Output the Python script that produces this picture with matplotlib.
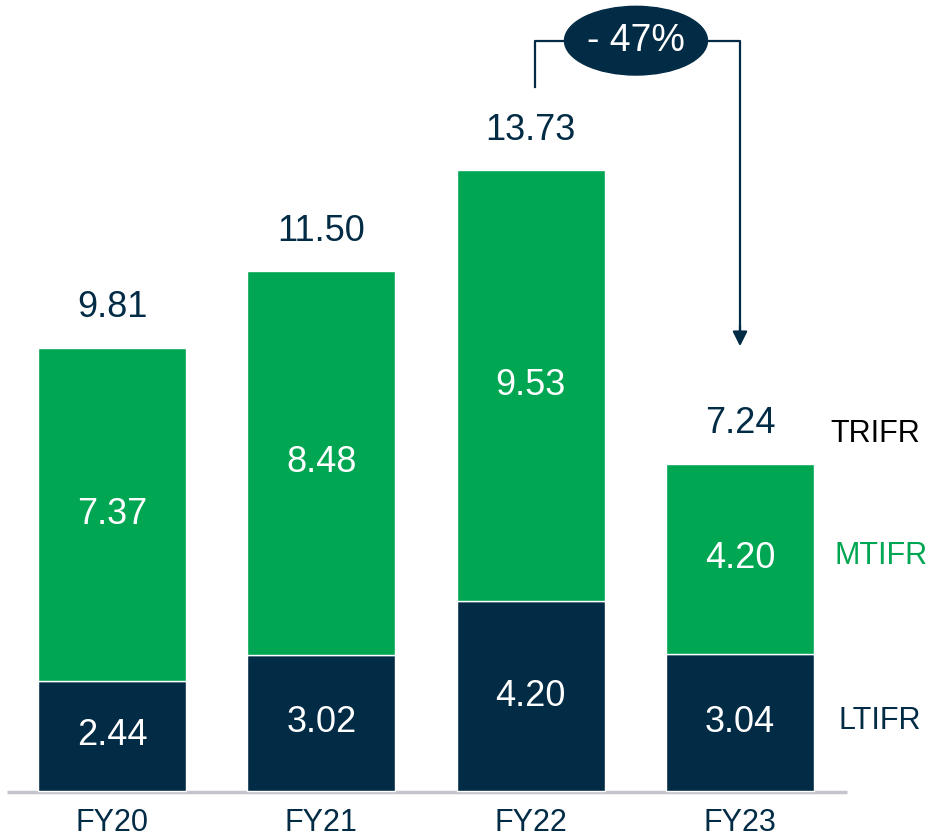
import matplotlib.pyplot as plt
from matplotlib.patches import Ellipse
import numpy as np

years = ['FY20', 'FY21', 'FY22', 'FY23']
ltifr = [2.44, 3.02, 4.20, 3.04]
mtifr = [7.37, 8.48, 9.53, 4.20]
trifr = [9.81, 11.50, 13.73, 7.24]
change_label = '- 47%'

navy = '#022B45'
green = '#00A651'
grey = '#C4C4CC'

plt.rcParams['font.family'] = ['Liberation Sans', 'DejaVu Sans']

fig = plt.figure(figsize=(9.37, 8.36), dpi=100)
ax = fig.add_axes([0, 0, 1, 1])
ax.set_xlim(-0.535, 3.941)
ax.set_ylim(-0.995, 17.5)
ax.axis('off')

x = np.arange(len(years))
w = 0.707
ax.bar(x, ltifr, w, color=navy, edgecolor='white', linewidth=1, zorder=2)
ax.bar(x, mtifr, w, bottom=ltifr, color=green, edgecolor='white', linewidth=1, zorder=2)
ax.plot([-0.5, 3.51], [-0.03, -0.03], color=grey, lw=2.5, zorder=1, solid_capstyle='butt')

for i in range(len(years)):
    ax.text(x[i], ltifr[i] / 2, f'{ltifr[i]:.2f}', ha='center', va='center',
            color='white', fontsize=26)
    ax.text(x[i], ltifr[i] + mtifr[i] / 2, f'{mtifr[i]:.2f}', ha='center', va='center',
            color='white', fontsize=26)
    ax.text(x[i], trifr[i] + 0.88, f'{trifr[i]:.2f}', ha='center', va='center',
            color=navy, fontsize=26)
    ax.text(x[i], -0.7, years[i], ha='center', va='center', color=navy, fontsize=22)

# series names on the right
ax.text(3.645, 7.9, 'TRIFR', ha='center', va='center', color='black', fontsize=22)
ax.text(3.674, 5.2, 'MTIFR', ha='center', va='center', color=green, fontsize=22)
ax.text(3.667, 1.55, 'LTIFR', ha='center', va='center', color=navy, fontsize=22)

# change bracket FY22 -> FY23
top = 16.6
ax.plot([2.02, 2.02, 3.0, 3.0], [trifr[2] + 1.85, top, top, trifr[3] + 2.95],
        color=navy, lw=1.6, zorder=3)
ax.annotate('', xy=(3.0, trifr[3] + 2.6), xytext=(3.0, trifr[3] + 3.05),
            arrowprops=dict(arrowstyle='-|>', color=navy, lw=1.6,
                            mutation_scale=22, shrinkA=0, shrinkB=0))
ax.add_patch(Ellipse((2.503, top), 0.683, 1.52, color=navy, zorder=4))
ax.text(2.503, top, change_label, ha='center', va='center', color='white',
        fontsize=27, zorder=5)

fig.savefig('out.png', dpi=100)
